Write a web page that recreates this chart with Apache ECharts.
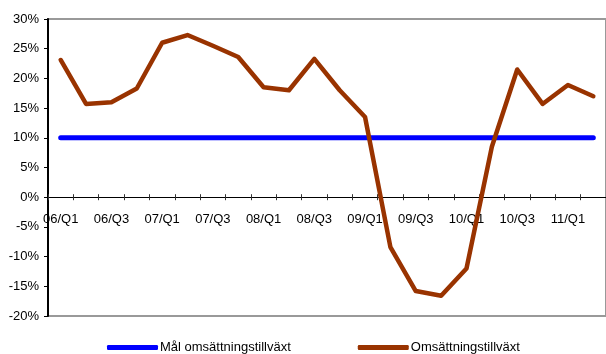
<!DOCTYPE html>
<html><head><meta charset="utf-8">
<script src="https://cdn.jsdelivr.net/npm/echarts@6/dist/echarts.min.js"></script>
<style>html,body{margin:0;padding:0;background:#fff}#c{width:606px;height:354px}</style>
</head><body><div id="c"></div>
<script>
const categories = ['06/Q1','06/Q2','06/Q3','06/Q4','07/Q1','07/Q2','07/Q3','07/Q4','08/Q1','08/Q2','08/Q3','08/Q4','09/Q1','09/Q2','09/Q3','09/Q4','10/Q1','10/Q2','10/Q3','10/Q4','11/Q1','11/Q2'];
const malValues = [10,10,10,10,10,10,10,10,10,10,10,10,10,10,10,10,10,10,10,10,10,10];
const omsValues = [23.1,15.7,16.0,18.3,26.0,27.3,25.5,23.6,18.5,18.0,23.3,18.0,13.5,-8.4,-15.8,-16.6,-12.0,8.5,21.5,15.7,18.9,17.0];
const yTicks = {min:-20, max:30, interval:5};

const font = 'Liberation Sans, Arial, sans-serif';
const chart = echarts.init(document.getElementById('c'), null, {renderer:'canvas'});
chart.setOption({
  animation:false,
  grid:{left:48, top:19, bottom:38, right:-4, show:true, borderColor:'#999', borderWidth:2, backgroundColor:'transparent'},
  legend:{
    left:102, top:336, itemWidth:51, itemHeight:5, itemGap:67, icon:'roundRect',
    textStyle:{fontFamily:font, fontSize:13, color:'#000', padding:[0,0,0,-3]},
    data:['Mål omsättningstillväxt','Omsättningstillväxt']
  },
  xAxis:[{
    type:'category', data:categories, boundaryGap:true, position:'bottom',
    axisLine:{onZero:true, onZeroAxisIndex:0, lineStyle:{color:'#000', width:1}},
    axisTick:{show:true, interval:0, length:3, lineStyle:{color:'#333'}},
    axisLabel:{interval:1, margin:-103, fontFamily:font, fontSize:13, color:'#000'},
    splitLine:{show:false}
  },{
    type:'category', data:categories, boundaryGap:true, position:'top',
    axisLine:{onZero:true, onZeroAxisIndex:1, lineStyle:{color:'#000', width:1}},
    axisTick:{show:true, interval:0, length:3, lineStyle:{color:'#333'}},
    axisLabel:{show:false}, splitLine:{show:false}
  }],
  yAxis:[{
    type:'value', min:yTicks.min, max:yTicks.max, interval:yTicks.interval,
    axisLine:{show:true, lineStyle:{color:'#000', width:2}},
    axisTick:{show:true, length:4, lineStyle:{color:'#000'}},
    axisLabel:{formatter:'{value}%', margin:9, fontFamily:font, fontSize:13, color:'#000'},
    splitLine:{show:false}
  },{
    type:'value', min:yTicks.min, max:yTicks.max, interval:yTicks.interval, position:'right',
    axisLine:{show:false}, axisTick:{show:false}, axisLabel:{show:false}, splitLine:{show:false}
  }],
  series:[{
    name:'Mål omsättningstillväxt', type:'line', data:malValues, symbol:'none',
    lineStyle:{color:'#0000ff', width:5, cap:'round'}, itemStyle:{color:'#0000ff'}
  },{
    name:'Omsättningstillväxt', type:'line', data:omsValues, symbol:'none', z:3,
    lineStyle:{color:'#993300', width:4.5, cap:'round', join:'round'}, itemStyle:{color:'#993300'}
  }]
});
</script></body></html>
